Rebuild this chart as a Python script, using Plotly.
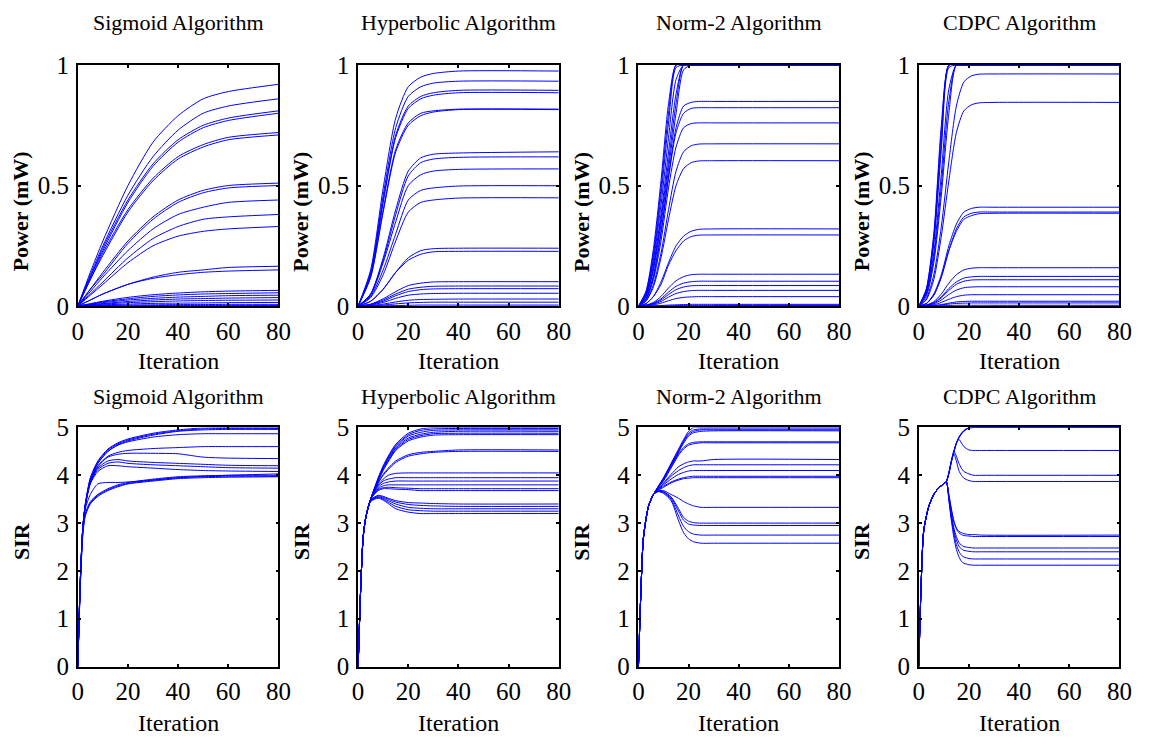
import plotly.graph_objects as go

# ---------------- data ----------------
titles = ["Sigmoid Algorithm", "Hyperbolic Algorithm", "Norm-2 Algorithm", "CDPC Algorithm"]
x_ticks = [0, 20, 40, 60, 80]
power_ticks = [0, 0.5, 1]
power_tick_text = ["0", "0.5", "1"]
sir_ticks = [0, 1, 2, 3, 4, 5]

# Sigmoid power
sig_p_t = [0, 5, 10, 20, 30, 40, 50, 60, 80]
sig_p = [
    [0, .14, .27, .50, .68, .79, .86, .89, .92],
    [0, .13, .25, .46, .62, .73, .80, .83, .86],
    [0, .12, .24, .44, .59, .69, .75, .78, .81],
    [0, .12, .23, .43, .58, .68, .74, .77, .80],
    [0, .11, .22, .40, .53, .62, .67, .70, .72],
    [0, .11, .21, .39, .52, .61, .66, .69, .71],
    [0, .07, .14, .27, .37, .44, .48, .50, .51],
    [0, .07, .13, .26, .36, .43, .47, .49, .50],
    [0, .06, .12, .23, .32, .38, .41, .43, .44],
    [0, .05, .10, .20, .28, .33, .36, .37, .38],
    [0, .045, .09, .18, .25, .29, .31, .32, .33],
    [0, .025, .05, .09, .12, .14, .15, .16, .165],
    [0, .025, .05, .09, .115, .13, .14, .145, .15],
    [0, .01, .02, .036, .047, .054, .059, .062, .065],
    [0, .008, .017, .03, .04, .046, .05, .052, .055],
    [0, .007, .014, .025, .032, .037, .04, .043, .045],
    [0, .005, .01, .019, .025, .029, .031, .033, .035],
    [0, .004, .008, .014, .018, .021, .023, .024, .025],
    [0, .002, .005, .008, .011, .012, .013, .014, .015],
    [0, .001, .002, .004, .005, .006, .006, .007, .007],
    [0, 0, .001, .001, .002, .002, .002, .002, .002],
]

# Hyperbolic power
hyp_p_t = [0, 5, 10, 15, 20, 25, 30, 40, 80]
hyp_p = [
    [0, .15, .49, .78, .91, .95, .965, .975, .975],
    [0, .14, .46, .74, .87, .91, .925, .933, .933],
    [0, .13, .44, .71, .83, .87, .885, .895, .895],
    [0, .13, .43, .70, .82, .86, .875, .885, .885],
    [0, .12, .40, .65, .76, .80, .81, .817, .817],
    [0, .12, .39, .64, .75, .79, .805, .815, .815],
    [0, .05, .20, .40, .56, .615, .63, .635, .64],
    [0, .05, .19, .38, .54, .595, .61, .617, .619],
    [0, .045, .18, .35, .50, .545, .56, .567, .569],
    [0, .04, .15, .30, .44, .48, .49, .498, .499],
    [0, .035, .13, .27, .39, .43, .44, .448, .449],
    [0, .02, .07, .14, .20, .23, .238, .24, .24],
    [0, .02, .07, .14, .19, .215, .225, .227, .227],
    [0, .008, .03, .06, .085, .095, .10, .101, .101],
    [0, .007, .025, .05, .07, .078, .082, .083, .083],
    [0, .006, .02, .043, .06, .068, .071, .072, .072],
    [0, .004, .015, .032, .045, .05, .052, .053, .053],
    [0, .002, .008, .017, .024, .027, .028, .029, .029],
    [0, .001, .004, .009, .013, .015, .016, .016, .016],
    [0, 0, .001, .002, .003, .004, .004, .004, .004],
]

# Norm-2 power
nrm_p_t = [0, 3, 6, 9, 12, 15, 18, 21, 24, 30, 80]
nrm_p = [
    [0, .06, .24, .52, .84, 1, 1, 1, 1, 1, 1],
    [0, .06, .22, .49, .80, 1, 1, 1, 1, 1, 1],
    [0, .05, .20, .46, .76, .99, 1, 1, 1, 1, 1],
    [0, .05, .19, .42, .70, .94, 1, 1, 1, 1, 1],
    [0, .04, .17, .38, .64, .88, 1, 1, 1, 1, 1],
    [0, .04, .16, .36, .60, .84, 1, 1, 1, 1, 1],
    [0, .04, .15, .34, .57, .80, .98, 1, 1, 1, 1],
    [0, .03, .13, .31, .54, .74, .83, .845, .849, .849, .849],
    [0, .03, .12, .30, .53, .72, .80, .82, .823, .823, .823],
    [0, .027, .11, .27, .49, .66, .74, .757, .76, .76, .76],
    [0, .022, .09, .22, .40, .56, .64, .665, .672, .673, .673],
    [0, .02, .08, .20, .36, .50, .57, .595, .602, .603, .603],
    [0, .01, .04, .10, .18, .25, .29, .31, .318, .32, .32],
    [0, .01, .04, .09, .17, .23, .27, .288, .294, .295, .295],
    [0, .004, .015, .04, .075, .105, .122, .13, .132, .132, .132],
    [0, .003, .012, .03, .058, .082, .095, .101, .103, .103, .103],
    [0, .003, .01, .025, .048, .068, .079, .084, .085, .085, .085],
    [0, .002, .008, .019, .037, .052, .06, .064, .065, .065, .065],
    [0, .001, .005, .012, .022, .031, .036, .038, .039, .039, .039],
    [0, 0, .001, .002, .004, .005, .006, .007, .007, .007, .007],
    [0, 0, 0, .001, .001, .002, .002, .002, .002, .002, .002],
]

# CDPC power
cdpc_p_t = [0, 3, 6, 9, 12, 15, 18, 21, 24, 30, 80]
cdpc_p = [
    [0, .07, .30, .75, 1, 1, 1, 1, 1, 1, 1],
    [0, .07, .29, .72, 1, 1, 1, 1, 1, 1, 1],
    [0, .06, .27, .68, 1, 1, 1, 1, 1, 1, 1],
    [0, .06, .26, .65, .99, 1, 1, 1, 1, 1, 1],
    [0, .05, .22, .55, .90, 1, 1, 1, 1, 1, 1],
    [0, .05, .20, .50, .85, 1, 1, 1, 1, 1, 1],
    [0, .04, .18, .46, .80, 1, 1, 1, 1, 1, 1],
    [0, .03, .13, .33, .60, .83, .93, .955, .962, .963, .963],
    [0, .025, .11, .29, .52, .72, .81, .835, .843, .845, .845],
    [0, .01, .05, .13, .25, .34, .39, .405, .41, .41, .41],
    [0, .01, .045, .12, .23, .32, .37, .385, .39, .39, .39],
    [0, .01, .045, .12, .23, .31, .36, .375, .383, .385, .385],
    [0, .004, .018, .05, .095, .13, .15, .157, .159, .159, .159],
    [0, .003, .014, .038, .073, .10, .116, .121, .123, .123, .123],
    [0, .003, .012, .034, .065, .09, .103, .108, .109, .109, .109],
    [0, .002, .009, .025, .048, .066, .076, .079, .08, .08, .08],
    [0, .001, .005, .015, .028, .039, .045, .047, .047, .047, .047],
    [0, 0, .002, .006, .012, .017, .019, .02, .02, .02, .02],
    [0, 0, .001, .004, .008, .011, .012, .013, .013, .013, .013],
    [0, 0, 0, .001, .002, .003, .003, .003, .003, .003, .003],
]

# Sigmoid SIR
sig_s_t = [0, 1, 2, 3, 5, 8, 12, 16, 20, 30, 40, 50, 60, 80]
sig_s = [
    [0, 1.8, 2.9, 3.4, 3.95, 4.3, 4.55, 4.68, 4.76, 4.88, 4.95, 4.99, 5.0, 5.0],
    [0, 1.8, 2.9, 3.4, 3.93, 4.28, 4.53, 4.66, 4.74, 4.86, 4.93, 4.97, 4.98, 4.98],
    [0, 1.8, 2.9, 3.38, 3.9, 4.25, 4.5, 4.64, 4.72, 4.84, 4.92, 4.95, 4.96, 4.96],
    [0, 1.8, 2.9, 3.38, 3.9, 4.25, 4.5, 4.63, 4.70, 4.80, 4.85, 4.87, 4.87, 4.87],
    [0, 1.8, 2.9, 3.37, 3.88, 4.2, 4.4, 4.48, 4.52, 4.56, 4.58, 4.6, 4.6, 4.6],
    [0, 1.8, 2.9, 3.37, 3.87, 4.18, 4.38, 4.44, 4.46, 4.46, 4.45, 4.38, 4.36, 4.35],
    [0, 1.8, 2.9, 3.36, 3.85, 4.15, 4.3, 4.33, 4.3, 4.27, 4.25, 4.23, 4.21, 4.2],
    [0, 1.8, 2.9, 3.36, 3.84, 4.12, 4.25, 4.28, 4.25, 4.22, 4.2, 4.18, 4.16, 4.15],
    [0, 1.8, 2.9, 3.35, 3.82, 4.08, 4.2, 4.2, 4.18, 4.15, 4.12, 4.1, 4.09, 4.08],
    [0, 1.8, 2.85, 3.3, 3.6, 3.82, 3.85, 3.85, 3.86, 3.9, 3.95, 3.98, 4.0, 4.03],
    [0, 1.7, 2.8, 3.2, 3.45, 3.6, 3.72, 3.8, 3.85, 3.92, 3.97, 3.99, 4.0, 4.0],
    [0, 1.7, 2.8, 3.18, 3.42, 3.58, 3.7, 3.78, 3.83, 3.9, 3.95, 3.97, 3.98, 3.98],
    [0, 1.7, 2.75, 3.15, 3.4, 3.56, 3.68, 3.76, 3.82, 3.88, 3.93, 3.95, 3.96, 3.97],
]

# Hyperbolic SIR
hyp_s_t = [0, 1, 2, 3, 5, 8, 10, 12, 15, 20, 25, 30, 40, 80]
hyp_s = [
    [0, 1.6, 2.7, 3.1, 3.5, 3.95, 4.2, 4.4, 4.65, 4.88, 4.97, 5.0, 5.0, 5.0],
    [0, 1.6, 2.7, 3.1, 3.5, 3.93, 4.18, 4.38, 4.62, 4.85, 4.94, 4.97, 4.98, 4.98],
    [0, 1.6, 2.7, 3.1, 3.5, 3.92, 4.16, 4.36, 4.6, 4.82, 4.9, 4.94, 4.95, 4.95],
    [0, 1.6, 2.7, 3.1, 3.5, 3.9, 4.14, 4.33, 4.57, 4.78, 4.86, 4.9, 4.92, 4.92],
    [0, 1.6, 2.7, 3.1, 3.5, 3.9, 4.12, 4.3, 4.54, 4.75, 4.83, 4.87, 4.88, 4.88],
    [0, 1.6, 2.7, 3.1, 3.5, 3.88, 4.1, 4.28, 4.52, 4.72, 4.8, 4.84, 4.85, 4.85],
    [0, 1.6, 2.7, 3.1, 3.5, 3.85, 4.02, 4.15, 4.3, 4.43, 4.48, 4.5, 4.53, 4.53],
    [0, 1.6, 2.7, 3.1, 3.5, 3.84, 4.0, 4.12, 4.27, 4.4, 4.45, 4.48, 4.5, 4.5],
    [0, 1.6, 2.7, 3.1, 3.5, 3.8, 3.92, 4.0, 4.04, 4.05, 4.05, 4.05, 4.05, 4.05],
    [0, 1.6, 2.7, 3.1, 3.5, 3.78, 3.88, 3.92, 3.95, 3.95, 3.95, 3.95, 3.95, 3.95],
    [0, 1.6, 2.7, 3.1, 3.5, 3.75, 3.83, 3.86, 3.88, 3.88, 3.88, 3.88, 3.88, 3.88],
    [0, 1.6, 2.7, 3.1, 3.5, 3.72, 3.78, 3.8, 3.8, 3.8, 3.8, 3.8, 3.8, 3.8],
    [0, 1.6, 2.7, 3.1, 3.5, 3.7, 3.74, 3.75, 3.74, 3.73, 3.72, 3.72, 3.72, 3.72],
    [0, 1.6, 2.7, 3.1, 3.5, 3.68, 3.72, 3.72, 3.71, 3.7, 3.68, 3.68, 3.68, 3.68],
    [0, 1.6, 2.7, 3.1, 3.48, 3.58, 3.56, 3.52, 3.47, 3.43, 3.42, 3.41, 3.4, 3.4],
    [0, 1.6, 2.7, 3.1, 3.48, 3.57, 3.54, 3.5, 3.44, 3.39, 3.37, 3.36, 3.35, 3.35],
    [0, 1.6, 2.7, 3.1, 3.47, 3.55, 3.52, 3.47, 3.4, 3.33, 3.31, 3.3, 3.3, 3.3],
    [0, 1.6, 2.7, 3.1, 3.46, 3.54, 3.5, 3.44, 3.35, 3.28, 3.26, 3.25, 3.25, 3.25],
    [0, 1.6, 2.7, 3.1, 3.45, 3.52, 3.48, 3.41, 3.3, 3.23, 3.2, 3.2, 3.2, 3.2],
]

# Norm-2 SIR
nrm_s_t = [0, 1, 2, 4, 6, 8, 10, 13, 16, 18, 20, 22, 25, 30, 80]
nrm_s = [
    [0, 1.6, 2.7, 3.35, 3.6, 3.78, 3.95, 4.25, 4.55, 4.75, 4.92, 5.0, 5.0, 5.0, 5.0],
    [0, 1.6, 2.7, 3.35, 3.6, 3.77, 3.94, 4.23, 4.52, 4.72, 4.88, 4.95, 4.97, 4.97, 4.97],
    [0, 1.6, 2.7, 3.35, 3.6, 3.77, 3.93, 4.22, 4.5, 4.7, 4.85, 4.92, 4.95, 4.95, 4.95],
    [0, 1.6, 2.7, 3.35, 3.6, 3.76, 3.92, 4.2, 4.48, 4.67, 4.82, 4.89, 4.92, 4.93, 4.93],
    [0, 1.6, 2.7, 3.35, 3.6, 3.76, 3.9, 4.18, 4.45, 4.58, 4.66, 4.69, 4.7, 4.7, 4.7],
    [0, 1.6, 2.7, 3.35, 3.6, 3.75, 3.88, 4.15, 4.42, 4.55, 4.63, 4.66, 4.68, 4.68, 4.68],
    [0, 1.6, 2.7, 3.35, 3.6, 3.73, 3.84, 4.02, 4.18, 4.24, 4.28, 4.3, 4.3, 4.33, 4.33],
    [0, 1.6, 2.7, 3.35, 3.6, 3.72, 3.82, 3.98, 4.1, 4.16, 4.2, 4.22, 4.22, 4.22, 4.22],
    [0, 1.6, 2.7, 3.35, 3.6, 3.71, 3.8, 3.92, 4.02, 4.06, 4.09, 4.1, 4.1, 4.1, 4.1],
    [0, 1.6, 2.7, 3.35, 3.6, 3.7, 3.77, 3.86, 3.92, 3.95, 3.97, 3.98, 3.98, 3.98, 3.98],
    [0, 1.6, 2.7, 3.35, 3.6, 3.69, 3.75, 3.84, 3.9, 3.93, 3.94, 3.95, 3.95, 3.95, 3.95],
    [0, 1.6, 2.7, 3.35, 3.6, 3.68, 3.68, 3.6, 3.52, 3.45, 3.4, 3.36, 3.33, 3.33, 3.33],
    [0, 1.6, 2.7, 3.35, 3.6, 3.67, 3.66, 3.55, 3.3, 3.12, 3.04, 3.01, 3.0, 3.0, 3.0],
    [0, 1.6, 2.7, 3.35, 3.6, 3.67, 3.65, 3.53, 3.25, 3.06, 2.98, 2.96, 2.95, 2.95, 2.95],
    [0, 1.6, 2.7, 3.35, 3.6, 3.66, 3.64, 3.5, 3.15, 2.93, 2.82, 2.77, 2.75, 2.75, 2.75],
    [0, 1.6, 2.7, 3.35, 3.6, 3.66, 3.62, 3.47, 3.05, 2.8, 2.67, 2.61, 2.58, 2.58, 2.58],
]

# CDPC SIR
cdpc_s_t = [0, 1, 2, 4, 6, 8, 10, 11, 12, 13, 14, 15, 16, 17, 18, 20, 22, 25, 80]
cdpc_s = [
    [0, 1.8, 2.85, 3.35, 3.6, 3.74, 3.82, 3.87, 4.05, 4.3, 4.5, 4.68, 4.8, 4.88, 4.94, 5.0, 5.0, 5.0, 5.0],
    [0, 1.8, 2.85, 3.35, 3.6, 3.74, 3.82, 3.87, 4.04, 4.29, 4.49, 4.67, 4.79, 4.87, 4.93, 4.99, 5.0, 5.0, 5.0],
    [0, 1.8, 2.85, 3.35, 3.6, 3.74, 3.82, 3.86, 4.03, 4.28, 4.48, 4.66, 4.78, 4.86, 4.92, 4.99, 5.0, 5.0, 5.0],
    [0, 1.8, 2.85, 3.35, 3.6, 3.74, 3.82, 3.87, 4.05, 4.3, 4.5, 4.68, 4.75, 4.68, 4.6, 4.53, 4.52, 4.52, 4.52],
    [0, 1.8, 2.85, 3.35, 3.6, 3.74, 3.82, 3.87, 4.05, 4.3, 4.5, 4.4, 4.25, 4.15, 4.08, 4.03, 4.0, 4.0, 4.0],
    [0, 1.8, 2.85, 3.35, 3.6, 3.74, 3.82, 3.87, 4.05, 4.28, 4.45, 4.3, 4.1, 4.0, 3.94, 3.89, 3.87, 3.87, 3.87],
    [0, 1.8, 2.85, 3.35, 3.6, 3.74, 3.82, 3.86, 3.6, 3.3, 3.05, 2.9, 2.83, 2.8, 2.78, 2.76, 2.76, 2.75, 2.75],
    [0, 1.8, 2.85, 3.35, 3.6, 3.74, 3.82, 3.86, 3.58, 3.28, 3.03, 2.88, 2.8, 2.76, 2.74, 2.73, 2.72, 2.72, 2.72],
    [0, 1.8, 2.85, 3.35, 3.6, 3.74, 3.82, 3.86, 3.55, 3.2, 2.9, 2.72, 2.6, 2.54, 2.51, 2.49, 2.48, 2.48, 2.48],
    [0, 1.8, 2.85, 3.35, 3.6, 3.74, 3.82, 3.86, 3.53, 3.15, 2.85, 2.65, 2.52, 2.46, 2.43, 2.41, 2.4, 2.4, 2.4],
    [0, 1.8, 2.85, 3.35, 3.6, 3.74, 3.82, 3.86, 3.5, 3.1, 2.78, 2.55, 2.41, 2.33, 2.29, 2.26, 2.25, 2.25, 2.25],
    [0, 1.8, 2.85, 3.35, 3.6, 3.74, 3.82, 3.86, 3.48, 3.05, 2.7, 2.45, 2.3, 2.2, 2.16, 2.13, 2.12, 2.12, 2.12],
]

panels = [
    (sig_p_t, sig_p), (hyp_p_t, hyp_p), (nrm_p_t, nrm_p), (cdpc_p_t, cdpc_p),
    (sig_s_t, sig_s), (hyp_s_t, hyp_s), (nrm_s_t, nrm_s), (cdpc_s_t, cdpc_s),
]

# ---------------- layout ----------------
W, H = 1157, 749
LEFT0, PW, STEP = 73, 204, 285
ROWS = [(54, 304), (430, 678)]
FONT = "'Times New Roman', 'Liberation Serif', 'DejaVu Serif', serif"
BLUE = "#0000FF"

fig = go.Figure()
layout = dict(
    width=W, height=H, margin=dict(l=0, r=0, t=0, b=0),
    paper_bgcolor="white", plot_bgcolor="white", showlegend=False,
    font=dict(family=FONT, color="black"),
)
annotations = []

for i, (tt, curves) in enumerate(panels):
    r, c = divmod(i, 4)
    k = i + 1
    xs = "" if k == 1 else str(k)
    left = LEFT0 + c * STEP
    top, bot = ROWS[r]
    for vals in curves:
        fig.add_trace(go.Scatter(
            x=tt, y=vals, mode="lines",
            line=dict(color=BLUE, width=1, shape="spline", smoothing=0.7),
            xaxis="x" + xs, yaxis="y" + xs, hoverinfo="skip",
        ))
    axis_common = dict(
        showgrid=False, zeroline=False, showline=True, linecolor="black",
        linewidth=1.5, mirror="allticks", ticks="inside", ticklen=3,
        tickwidth=1.5, tickcolor="black",
        tickfont=dict(family=FONT, size=25, color="black"),
    )
    layout["xaxis" + xs] = dict(
        axis_common, domain=[left / W, (left + PW) / W], anchor="y" + xs,
        range=[0, 80], tickvals=x_ticks, ticklabelstandoff=2,
    )
    if r == 0:
        ydict = dict(range=[0, 1], tickvals=power_ticks, ticktext=power_tick_text)
        ylab, ylab_y = "Power (mW)", 206
    else:
        ydict = dict(range=[0, 5], tickvals=sir_ticks)
        ylab, ylab_y = "SIR", 548
    layout["yaxis" + xs] = dict(
        axis_common, domain=[1 - bot / H, 1 - top / H], anchor="x" + xs,
        ticklabelstandoff=2, **ydict,
    )
    cx = left + PW / 2
    title_y = 10 if r == 0 else 398
    iter_y = 361 if r == 0 else 737
    annotations.append(dict(text=titles[c], x=cx / W, y=1 - title_y / H,
                            xref="paper", yref="paper", showarrow=False,
                            xanchor="center", yanchor="middle",
                            font=dict(family=FONT, size=22, color="black")))
    annotations.append(dict(text="Iteration", x=cx / W, y=1 - iter_y / H,
                            xref="paper", yref="paper", showarrow=False,
                            xanchor="center", yanchor="middle",
                            font=dict(family=FONT, size=24, color="black")))
    annotations.append(dict(text="<b>" + ylab + "</b>", x=(15 + c * STEP) / W,
                            y=1 - ylab_y / H, xref="paper", yref="paper",
                            showarrow=False, textangle=-90,
                            xanchor="center", yanchor="middle",
                            font=dict(family=FONT, size=22, color="black")))

layout["annotations"] = annotations
fig.update_layout(**layout)
fig.write_html("out.html")
